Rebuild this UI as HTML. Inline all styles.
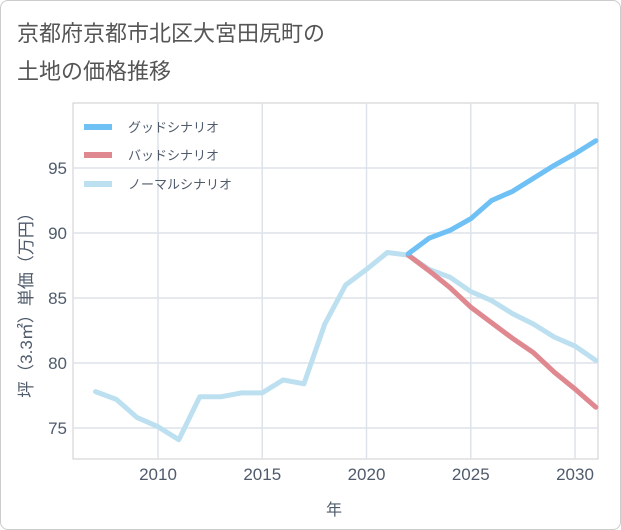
<!DOCTYPE html>
<html><head><meta charset="utf-8"><style>
body{margin:0;background:#fff;font-family:"Liberation Sans","Noto Sans CJK JP",sans-serif;}
#wrap{position:relative;width:619px;height:528px;border:1px solid #ccc;border-radius:8px;overflow:hidden;background:#fff}
svg text{font-family:"Liberation Sans","Noto Sans CJK JP",sans-serif;}
</style></head><body>
<div id="wrap">
<svg id="chart" width="621" height="530">
<text x="16" y="40" font-size="22" fill="#555">京都府京都市北区大宮田尻町の</text>
<text x="16" y="78" font-size="22" fill="#555">土地の価格推移</text>
<g id="grid"></g><g id="series"></g><g id="legend"></g><g id="axes"></g>
</svg></div>
<script>
const years=[2007,2008,2009,2010,2011,2012,2013,2014,2015,2016,2017,2018,2019,2020,2021,2022,2023,2024,2025,2026,2027,2028,2029,2030,2031];
const normal=[77.8,77.2,75.8,75.1,74.1,77.4,77.4,77.7,77.7,78.7,78.4,83.0,86.0,87.2,88.5,88.3,87.2,86.6,85.5,84.8,83.8,83.0,82.0,81.3,80.2];
const goodYears=[2022,2023,2024,2025,2026,2027,2028,2029,2030,2031];
const good=[88.4,89.6,90.2,91.1,92.5,93.2,94.2,95.2,96.1,97.1];
const bad=[88.3,87.1,85.8,84.3,83.1,81.9,80.8,79.3,78.0,76.6];
const xTicks=[2010,2015,2020,2025,2030];
const yTicks=[75,80,85,90,95];
const L=72,R=597,T=102,B=458;
const x=v=>157+(v-2010)*20.85;
const y=v=>427-(v-75)*13;
const NS="http://www.w3.org/2000/svg";
const TC='#4f5b6b';
function mk(t,a,p){const e=document.createElementNS(NS,t);for(const k in a)e.setAttribute(k,a[k]);p.appendChild(e);return e;}
const grid=document.getElementById('grid'),axes=document.getElementById('axes'),ser=document.getElementById('series'),leg=document.getElementById('legend');
let r=mk('rect',{x:L,y:T,width:R-L,height:B-T,fill:'none',stroke:'#ccc'},grid);


xTicks.forEach(t=>{let l=mk('line',{x1:x(t),x2:x(t),y1:T,y2:B,stroke:'#dde3ea','stroke-width':1.5},grid);


let tx=mk('text',{x:x(t),y:479,'font-size':17,fill:TC,'text-anchor':'middle'},axes);tx.textContent=t;

});
yTicks.forEach(t=>{let l=mk('line',{x1:L,x2:R,y1:y(t),y2:y(t),stroke:'#dde3ea','stroke-width':1.5},grid);


let tx=mk('text',{x:66,y:y(t)+6,'font-size':17,fill:TC,'text-anchor':'end'},axes);tx.textContent=t;

});
let xt=mk('text',{x:333,y:514,'font-size':16,fill:TC,'text-anchor':'middle'},axes);xt.textContent='年';


let yt=mk('text',{x:0,y:0,'font-size':17,fill:TC,'text-anchor':'middle',transform:'translate(31,300) rotate(-90)'},axes);yt.textContent='坪（3.3㎡）単価（万円）';


function line(xs,vs,c,name){const d=vs.map((v,i)=>(i?'L':'M')+x(xs[i])+','+y(v)).join(' ');
let p=mk('path',{d:d,fill:'none',stroke:c,'stroke-width':5,'stroke-linejoin':'round','stroke-linecap':'round'},ser);

}
line(years,normal,'#bde0f0','normal-scenario-line');
line(goodYears,bad,'#e08890','bad-scenario-line');
line(goodYears,good,'#6ec0f5','good-scenario-line');
[['グッドシナリオ','#6ec0f5',126],['バッドシナリオ','#e08890',154],['ノーマルシナリオ','#bde0f0',183]].forEach(([n,c,yy])=>{
let g=mk('g',{},leg);


mk('line',{x1:83,x2:111,y1:yy,y2:yy,stroke:c,'stroke-width':6},g);
let t=mk('text',{x:127,y:yy+5,'font-size':13,fill:TC},g);t.textContent=n;});
</script></body></html>
